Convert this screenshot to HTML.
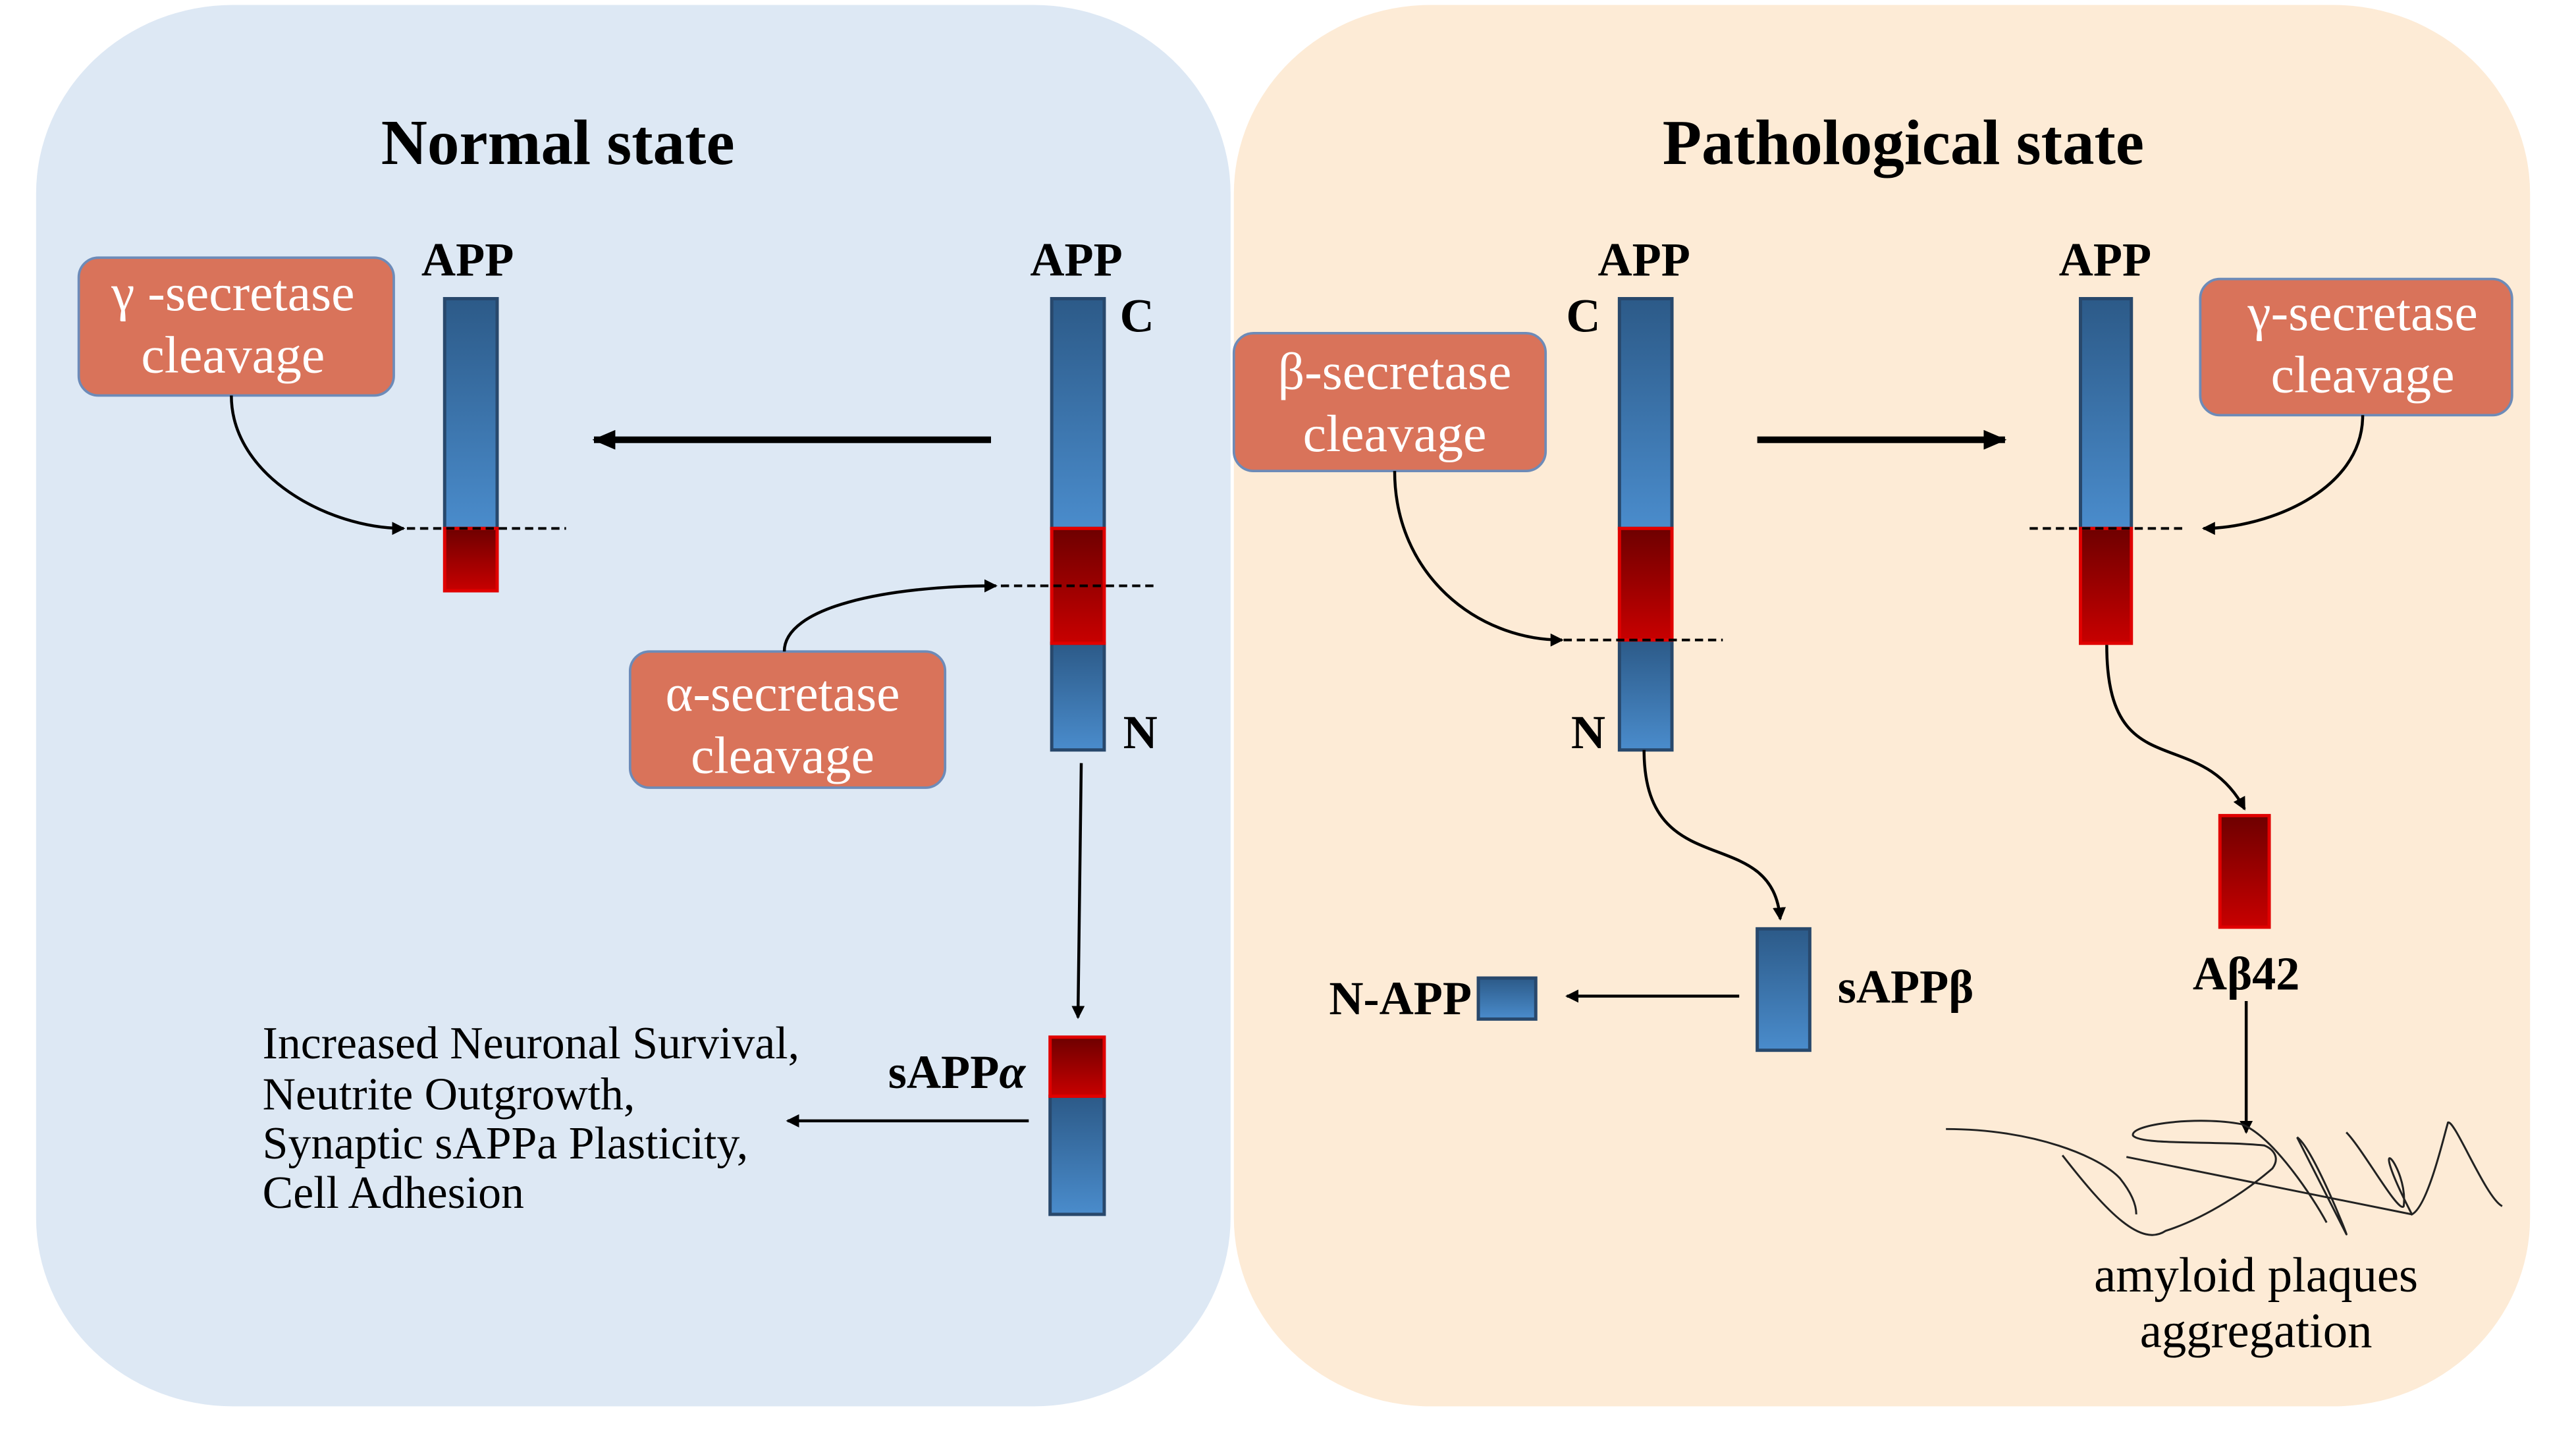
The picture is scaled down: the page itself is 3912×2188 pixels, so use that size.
<!DOCTYPE html>
<html><head><meta charset="utf-8"><style>html,body{margin:0;padding:0;background:#fff}svg{display:block}</style></head>
<body>
<svg width="3912" height="2188" viewBox="0 0 1570 878.1" xmlns="http://www.w3.org/2000/svg" font-family="'Liberation Serif',serif">
<defs>
<linearGradient id="bl" x1="0" y1="0" x2="0" y2="1"><stop offset="0" stop-color="#2c5a88"/><stop offset="1" stop-color="#4a8ccc"/></linearGradient>
<linearGradient id="rd" x1="0" y1="0" x2="0" y2="1"><stop offset="0" stop-color="#6e0000"/><stop offset="1" stop-color="#c80000"/></linearGradient>
<marker id="a" markerWidth="8" markerHeight="8" refX="7" refY="4" orient="auto" markerUnits="userSpaceOnUse"><path d="M0,0 L8,4 L0,8 z" fill="#000"/></marker>
<marker id="A" markerWidth="14" markerHeight="12" refX="13" refY="6" orient="auto" markerUnits="userSpaceOnUse"><path d="M0,0 L14,6 L0,12 z" fill="#000"/></marker>
</defs>
<rect x="22" y="3" width="728" height="854" rx="120" ry="115" fill="#dde8f4"/>
<rect x="752" y="3" width="790" height="854" rx="120" ry="115" fill="#fdebd6"/>
<g font-weight="bold" font-size="39" text-anchor="middle"><text x="340" y="100">Normal state</text><text x="1160" y="100">Pathological state</text></g>
<g fill="#d9735a" stroke="#6d8bb8" stroke-width="1.5">
<rect x="48" y="157" width="192" height="84" rx="12"/><rect x="384" y="397" width="192" height="83" rx="12"/>
<rect x="752" y="203" width="190" height="84" rx="12"/><rect x="1341" y="170" width="190" height="83" rx="12"/></g>
<g fill="#fff" font-size="32" text-anchor="middle">
<text x="142" y="189">γ -secretase</text><text x="142" y="227">cleavage</text>
<text x="477" y="433">α-secretase</text><text x="477" y="471">cleavage</text>
<text x="850" y="237">β-secretase</text><text x="850" y="275">cleavage</text>
<text x="1440" y="201">γ-secretase</text><text x="1440" y="239">cleavage</text></g>
<g font-weight="bold" font-size="29" text-anchor="middle">
<text x="285" y="168">APP</text><text x="656" y="168">APP</text><text x="1002" y="168">APP</text><text x="1283" y="168">APP</text>
<text x="693" y="202">C</text><text x="695" y="456">N</text><text x="965" y="202">C</text><text x="968" y="456">N</text>
<text x="1369" y="603">Aβ42</text></g>
<g stroke="#28486c" stroke-width="2">
<rect x="271" y="182" width="32" height="140" fill="url(#bl)"/>
<rect x="641" y="182" width="32" height="140" fill="url(#bl)"/><rect x="641" y="392" width="32" height="65" fill="url(#bl)"/>
<rect x="640" y="668" width="33" height="72" fill="url(#bl)"/>
<rect x="987" y="182" width="32" height="140" fill="url(#bl)"/><rect x="987" y="390" width="32" height="67" fill="url(#bl)"/>
<rect x="1268" y="182" width="31" height="140" fill="url(#bl)"/>
<rect x="1071" y="566" width="32" height="74" fill="url(#bl)"/>
<rect x="901" y="596" width="35" height="25" fill="url(#bl)"/></g>
<g stroke="#e00000" stroke-width="2">
<rect x="271" y="322" width="32" height="38" fill="url(#rd)"/>
<rect x="641" y="322" width="32" height="70" fill="url(#rd)"/>
<rect x="640" y="632" width="33" height="36" fill="url(#rd)"/>
<rect x="987" y="322" width="32" height="68" fill="url(#rd)"/>
<rect x="1268" y="322" width="31" height="70" fill="url(#rd)"/>
<rect x="1353" y="497" width="30" height="68" fill="url(#rd)"/></g>
<g stroke="#000" stroke-width="1.6" stroke-dasharray="5,3">
<line x1="248" y1="322" x2="345" y2="322"/><line x1="610" y1="357" x2="706" y2="357"/>
<line x1="953" y1="390" x2="1050" y2="390"/><line x1="1237" y1="322" x2="1333" y2="322"/></g>
<g fill="none" stroke="#000" stroke-width="1.8">
<path d="M141,241 C141,290 200,322 246,322" marker-end="url(#a)"/>
<path d="M478,397 C478,370 540,357 607,357" marker-end="url(#a)"/>
<path d="M850,287 C850,350 900,390 952,390" marker-end="url(#a)"/>
<path d="M1440,253 C1440,300 1380,322 1343,322" marker-end="url(#a)"/>
<path d="M1284,393 C1284,480 1340,440 1368,493" marker-end="url(#a)"/>
<path d="M1002,457 C1002,540 1080,500 1085,560" marker-end="url(#a)"/>
<path d="M659,465 L657,620" marker-end="url(#a)"/>
<path d="M627,683 L480,683" marker-end="url(#a)"/>
<path d="M1060,607 L955,607" marker-end="url(#a)"/>
<path d="M1369,610 L1369,690" marker-end="url(#a)"/>
</g>
<g stroke="#000" stroke-width="4"><line x1="604" y1="268" x2="362" y2="268" marker-end="url(#A)"/><line x1="1071" y1="268" x2="1222" y2="268" marker-end="url(#A)"/></g>
<g fill="none" stroke="#222" stroke-width="1.2">
<path d="M1186,688 C1240,688 1280,705 1292,718 C1300,728 1302,735 1302,740"/>
<path d="M1257,704 C1285,740 1305,760 1320,750 C1345,742 1370,725 1385,712 C1390,705 1385,700 1380,698 C1350,695 1305,698 1300,692 C1298,685 1340,680 1366,685 C1385,692 1410,730 1418,745"/>
<path d="M1296,705 L1470,740"/>
<path d="M1400,693 L1430,752 C1432,756 1410,700 1400,693"/>
<path d="M1430,690 C1440,700 1462,740 1465,735 C1468,710 1440,682 1470,740 C1480,735 1490,690 1492,684 C1496,682 1515,730 1525,735"/>
</g>
<g font-weight="bold" font-size="29"><text x="1120" y="611">sAPPβ</text><text x="897" y="618" text-anchor="end">N-APP</text>
<text x="625" y="663" text-anchor="end">sAPP<tspan font-style="italic">α</tspan></text></g>
<g font-size="28"><text x="160" y="645">Increased Neuronal Survival,</text><text x="160" y="676">Neutrite Outgrowth,</text>
<text x="160" y="706">Synaptic sAPPa Plasticity,</text><text x="160" y="736">Cell Adhesion</text></g>
<g font-size="30" text-anchor="middle"><text x="1375" y="787">amyloid  plaques</text><text x="1375" y="821">aggregation</text></g>
</svg>
</body></html>
